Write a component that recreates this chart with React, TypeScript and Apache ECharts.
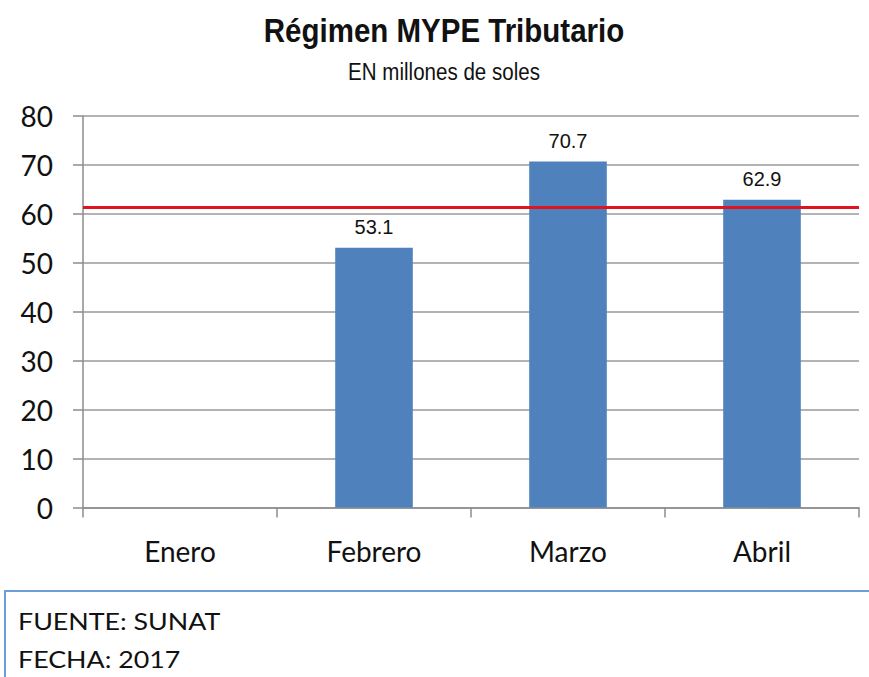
import React, { useEffect, useRef } from "react";
import * as echarts from "echarts";

const categories = ["Enero", "Febrero", "Marzo", "Abril"];
const values: (number | null)[] = [null, 53.1, 70.7, 62.9];
const referenceValue = 61.3;
const titleText = "Régimen MYPE Tributario";
const subtitleText = "EN millones de soles";
const footerLines = ["FUENTE: SUNAT", "FECHA: 2017"];

export default function App() {
  const ref = useRef<HTMLDivElement>(null);
  useEffect(() => {
    if (!ref.current) return;
    const chart = echarts.init(ref.current, null, { renderer: "svg" });
    const labelFont = "Lato, 'Open Sans', sans-serif";
    const arial = "'Liberation Sans', Arial, sans-serif";
    chart.setOption({
      animation: false,
      backgroundColor: "#ffffff",
      grid: { left: 83, right: 10, top: 116, bottom: 169.5, containLabel: false },
      xAxis: {
        type: "category",
        data: categories,
        boundaryGap: true,
        axisLine: { show: true, lineStyle: { color: "#8c8c8c", width: 1.5 } },
        axisTick: { show: true, length: 10, alignWithLabel: false, lineStyle: { color: "#8c8c8c", width: 1.5 } },
        axisLabel: { margin: 29, fontFamily: labelFont, fontSize: 28, color: "#111" },
        splitLine: { show: false },
      },
      yAxis: {
        type: "value",
        min: 0,
        max: 80,
        interval: 10,
        axisLine: { show: true, lineStyle: { color: "#8c8c8c", width: 1.5 } },
        axisTick: { show: true, length: 10, lineStyle: { color: "#8c8c8c", width: 1.5 } },
        axisLabel: { margin: 30, fontFamily: labelFont, fontSize: 28, color: "#111" },
        splitLine: { show: true, lineStyle: { color: "#9a9a9a", width: 1.5 } },
      },
      series: [
        {
          type: "bar",
          data: values,
          barWidth: "40%",
          itemStyle: { color: "#4f81bd" },
          label: {
            show: true,
            position: "top",
            distance: 11,
            fontFamily: arial,
            fontSize: 20,
            color: "#111",
            formatter: (p: any) => (p.value == null ? "" : Number(p.value).toFixed(1)),
          },
          markLine: {
            silent: true,
            symbol: "none",
            label: { show: false },
            lineStyle: { color: "#e0141e", width: 3, type: "solid" },
            data: [{ yAxis: referenceValue }],
          },
        },
      ],
      graphic: [
        {
          type: "text",
          x: 444,
          y: 31,
          scaleX: 0.894,
          style: {
            text: titleText,
            fontFamily: arial,
            fontWeight: "bold",
            fontSize: 33,
            fill: "#111",
            textAlign: "center",
            textVerticalAlign: "middle",
          },
        },
        {
          type: "text",
          x: 444,
          y: 71.5,
          scaleX: 0.857,
          style: {
            text: subtitleText,
            fontFamily: arial,
            fontSize: 24,
            fill: "#111",
            textAlign: "center",
            textVerticalAlign: "middle",
          },
        },
        {
          type: "line",
          shape: { x1: 5, y1: 591, x2: 869, y2: 591 },
          style: { stroke: "#6a9fd8", lineWidth: 2 },
        },
        {
          type: "line",
          shape: { x1: 5, y1: 590, x2: 5, y2: 677 },
          style: { stroke: "#6a9fd8", lineWidth: 2 },
        },
        {
          type: "text",
          x: 18,
          y: 621,
          scaleX: 1.165,
          style: {
            text: footerLines[0],
            fontFamily: labelFont,
            fontSize: 23,
            fill: "#111",
            textAlign: "left",
            textVerticalAlign: "middle",
          },
        },
        {
          type: "text",
          x: 18,
          y: 659,
          scaleX: 1.165,
          style: {
            text: footerLines[1],
            fontFamily: labelFont,
            fontSize: 23,
            fill: "#111",
            textAlign: "left",
            textVerticalAlign: "middle",
          },
        },
      ],
    });
    return () => chart.dispose();
  }, []);
  return (
    <div
      ref={ref}
      style={{ position: "absolute", left: 0, top: 0, width: 869, height: 677 }}
    />
  );
}
